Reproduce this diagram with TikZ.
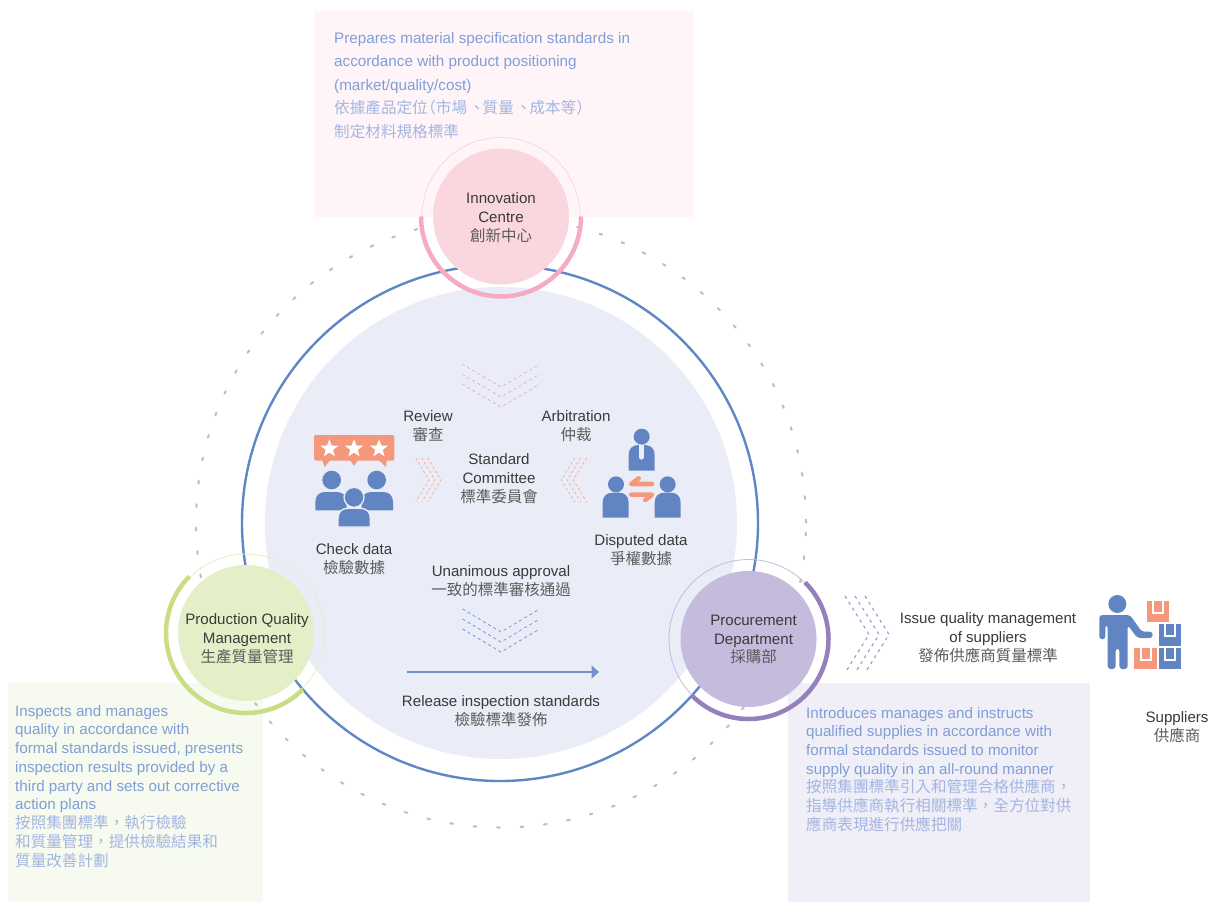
\documentclass[tikz,border=0pt]{standalone}
\usepackage{fontspec}
\setmainfont{Liberation Sans}
\newfontfamily\cjkfam{Noto Sans CJK TC}
\usetikzlibrary{arrows.meta,shapes.geometric}
\definecolor{inktext}{HTML}{3A3A3A}
\definecolor{cjktext}{HTML}{5C5C5C}
\definecolor{bluetext}{HTML}{7F9FD8}
\definecolor{bluecjk}{HTML}{A3B6E2}
\definecolor{ringblue}{HTML}{5F87C5}
\definecolor{iconblue}{HTML}{6185C3}
\definecolor{iconorange}{HTML}{F4977A}
\definecolor{diskblue}{HTML}{EAEDF7}
\definecolor{dotgray}{HTML}{BDBDBD}
\definecolor{pinkbox}{HTML}{FFF4F7}
\definecolor{pinkfill}{HTML}{FAD7DF}
\definecolor{pinkarc}{HTML}{F5ABC0}
\definecolor{greenbox}{HTML}{F6FAEF}
\definecolor{greenfill}{HTML}{E4EEC7}
\definecolor{greenarc}{HTML}{C9DD85}
\definecolor{purplebox}{HTML}{F0EEF6}
\definecolor{purplefill}{HTML}{C5BBDC}
\definecolor{purplearc}{HTML}{9480BA}
\definecolor{purplechev}{HTML}{A088CC}
\newcommand{\cj}[1]{{\cjkfam\color{cjktext}\fontsize{15.5}{18.9}\selectfont #1}}
\newcommand{\cb}[1]{{\cjkfam\color{bluecjk}\fontsize{15.6}{18.7}\selectfont #1}}
\newcommand{\pbody}[5]{\fill[iconblue,#5] (#1,#4) -- (#1,{#3+30}) .. controls (#1,{#3+10}) and ({#1+12},#3) .. ({#1+30},#3) -- ({#2-30},#3) .. controls ({#2-12},#3) and (#2,{#3+10}) .. (#2,{#3+30}) -- (#2,#4) -- cycle;}
\newcommand{\cartonbox}[3]{\fill[#3] (#1,#2) rectangle ({#1+67},{#2+64});\draw[white,line width=2pt] ({#1+19},#2) -- ({#1+19},{#2+35}) -- ({#1+50},{#2+35}) -- ({#1+50},#2);}
\tikzset{
 lbl/.style={align=center,text=inktext,font=\fontsize{15.1}{18.9}\selectfont,inner sep=0pt},
 bluepara/.style={align=left,text=bluetext,inner sep=0pt,anchor=north west},
 chev/.style={line width=0.8pt,dash pattern=on 3pt off 3pt},
 coredisk/.style={circle,minimum size=136pt,inner sep=0pt,draw=none},
}
\begin{document}
\begin{tikzpicture}[x=1pt,y=-1pt]
\useasboundingbox (0,0) rectangle (1214,902);
\fill[white] (0,0) rectangle (1214,902);
% panels
\fill[pinkbox] (314,11) rectangle (693,217);
\fill[greenbox] (8,683) rectangle (263,902);
\fill[purplebox] (788,683) rectangle (1090,902);
% dotted orbit (the seam of the dash pattern sits on the right)
\draw[dotgray,line width=2pt,line cap=round,dash pattern=on 2.8pt off 20.7pt] (806,522.5) arc[start angle=0,delta angle=-360,radius=305];
% main ring and disk
\fill[diskblue] (501,523) circle[radius=236];
\draw[ringblue,line width=2.4pt] (500,523) circle[radius=258];
% panel texts
\node[bluepara,font=\fontsize{15.25}{23.5}\selectfont] (ptext) at (334,32) {Prepares material specification standards in\\accordance with product positioning\\(market/quality/cost)\\\cb{依據產品定位\kern-7.5pt（市場\kern2pt、\kern-2pt質量\kern2pt、\kern-2pt成本等）}\\\cb{制定材料規格標準}};
\node[bluepara,font=\fontsize{15.2}{18.74}\selectfont] (gtext) at (15,705) {Inspects and manages\\quality in accordance with\\formal standards issued, presents\\inspection results provided by a\\third party and sets out corrective\\action plans\\\cb{按照集團標準，執行檢驗}\\\cb{和質量管理，提供檢驗結果和}\\\cb{質量改善計劃}};
\node[bluepara,font=\fontsize{15.15}{18.7}\selectfont] (ltext) at (806,707) {Introduces manages and instructs\\qualified supplies in accordance with\\formal standards issued to monitor\\supply quality in an all-round manner\\\cb{按照集團標準引入和管理合格供應商，}\\\cb{指導供應商執行相關標準，全方位對供}\\\cb{應商表現進行供應把關}};
% chevrons
\foreach \d in {0,10,20}{
 \draw[pinkarc,chev] (462,{364+\d}) -- (501,{387+\d}) -- (540,{364+\d});
 \draw[iconblue!85,chev] (462.5,{609+\d}) -- (501,{632+\d}) -- (539.5,{609+\d});
}
\foreach \d in {0,6,12}{
 \draw[iconorange!85,chev,line width=0.7pt,dash pattern=on 2.5pt off 2.5pt] ({415.7+\d},458) -- ({429+\d},480) -- ({415.7+\d},502);
 \draw[iconorange!85,chev,line width=0.7pt,dash pattern=on 2.5pt off 2.5pt] ({586.7-\d},458) -- ({573.3-\d},480) -- ({586.7-\d},502);
}
\foreach \d in {0,10,20}{
 \draw[purplechev,chev,line width=1pt,dash pattern=on 3pt off 4pt] ({845+\d},596) -- ({869+\d},634.5) -- ({845+\d},673);
}
% arrow
\coordinate (relA) at (407,672);
\coordinate (relB) at (599,672);
\draw[iconblue!90,line width=1.3pt,-{Triangle[length=7.5pt,width=13pt]}] (relA) -- (relB);
% Innovation
\node[coredisk,fill=pinkfill] (inno) at (501,216.5) {};
\draw[pinkfill,line width=0.8pt] (422,216.5) arc[start angle=180,delta angle=180,radius=79];
\draw[pinkarc,line width=4.5pt] (421,216.5) arc[start angle=180,delta angle=-180,radius=80];
% Production
\node[coredisk,fill=greenfill] (prod) at (246,633) {};
\draw[greenfill,line width=0.8pt] ({246+79*cos(135)},{633-79*sin(135)}) arc[start angle=-135,delta angle=180,radius=79];
\draw[greenarc,line width=4.5pt] ({246+80*cos(135)},{633-80*sin(135)}) arc[start angle=-135,delta angle=-180,radius=80];
% Procurement
\node[coredisk,fill=purplefill] (proc) at (748.5,639) {};
\draw[purplefill,line width=0.8pt] ({748.5+79.5*cos(45)},{639-79.5*sin(45)}) arc[start angle=-45,delta angle=-180,radius=79.5];
\draw[purplearc,line width=4.5pt] ({748.5+80*cos(45)},{639-80*sin(45)}) arc[start angle=-45,delta angle=180,radius=80];
% circle labels
\node[lbl] (innot) at (501,217.5) {Innovation\\Centre\\\cj{創新中心}};
\node[lbl] (prodt) at (247,639) {Production Quality\\Management\\\cj{生產質量管理}};
\node[lbl] (proct) at (753.5,639.5) {Procurement\\Department\\\cj{採購部}};
% centre labels
\node[lbl] (rev) at (428,426.5) {Review\\\cj{審查}};
\node[lbl] (arb) at (576,426.5) {Arbitration\\\cj{仲裁}};
\node[lbl] (std) at (499,478.5) {Standard\\Committee\\\cj{標準委員會}};
\node[lbl] (chk) at (354,559.5) {Check data\\\cj{檢驗數據}};
\node[lbl] (dsp) at (641,550.5) {Disputed data\\\cj{爭權數據}};
\node[lbl] (una) at (501,581.5) {Unanimous approval\\\cj{一致的標準審核通過}};
\node[lbl] (rel) at (501,711) {Release inspection standards\\\cj{檢驗標準發佈}};
\node[lbl] (iss) at (988,637.5) {Issue quality management\\of suppliers\\\cj{發佈供應商質量標準}};
\node[lbl] (sup) at (1177,727.5) {Suppliers\\\cj{供應商}};
% icons (coordinates in 3x crop units)
\begin{scope}[shift={(300,350)},scale=1/3]
 \fill[iconorange,rounded corners=2pt] (42,255) rectangle (283,332);
 \fill[iconorange] (66,328) -- (92,328) -- (74,351) -- cycle (148,328) -- (176,328) -- (162,347) -- cycle (234,328) -- (260,328) -- (258,351) -- cycle;
 \foreach \x in {88,162,237}{
  \node[star,star points=5,star point ratio=2.4,fill=white,minimum size=19pt,inner sep=0pt,draw=none] (s\x) at (\x,296) {};
 }
 \fill[iconblue] (95,390) circle[radius=28pt] (230,390) circle[radius=28pt];
 \pbody{46}{140}{426}{481}{}
 \pbody{185}{279}{426}{481}{}
 \fill[iconblue,draw=diskblue,line width=1.3pt] (162,442) circle[radius=30pt];
 \pbody{114}{211}{475}{531}{draw=diskblue,line width=1.3pt}
 % arbitration
 \fill[iconblue] (1025,260) circle[radius=24pt] (948,403) circle[radius=24pt] (1103,403) circle[radius=24pt];
 \pbody{986}{1064}{285}{362}{}
 \pbody{908}{986}{428}{503}{}
 \pbody{1064}{1142}{428}{503}{}
 \draw[diskblue,line width=4.6pt,line cap=round] (1025,292) -- (1025,322);
 \fill[diskblue] (1017,284) rectangle (1033,296);
 \draw[iconorange,line width=4.6pt,line cap=round,line join=round] (1056,402) -- (994,402) -- (1016,385);
 \draw[iconorange,line width=4.6pt,line cap=round,line join=round] (994,434) -- (1056,434) -- (1036,450);
\end{scope}
\begin{scope}[shift={(1080,580)},scale=1/3]
 \fill[iconblue] (112,72) circle[radius=27pt];
 \fill[iconblue,rounded corners=3pt] (58,178) -- (58,105) -- (150,105) -- (185,155) -- (218,155) -- (218,174) -- (172,174) -- (143,135) -- (143,267) -- (118,267) -- (118,205) -- (107,205) -- (107,267) -- (83,267) -- (83,135) -- (76,135) -- (76,178) -- cycle;
 \cartonbox{200}{63}{iconorange}
 \cartonbox{236}{133}{iconblue}
 \cartonbox{163}{204}{iconorange}
 \cartonbox{236}{204}{iconblue}
\end{scope}
\end{tikzpicture}
\end{document}
